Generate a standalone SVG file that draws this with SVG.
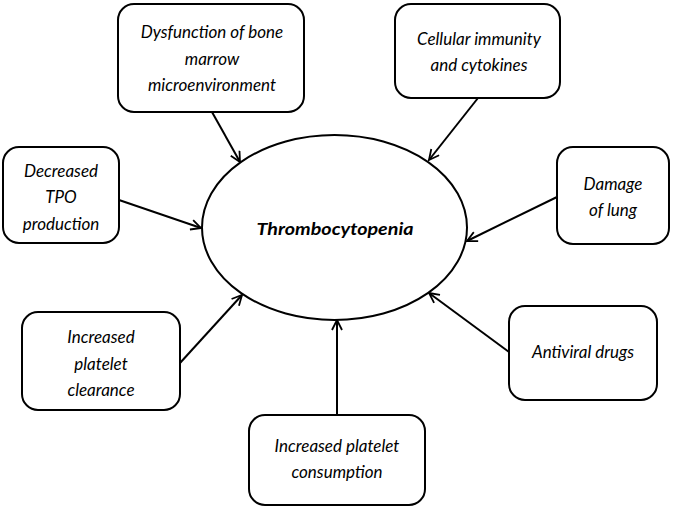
<svg xmlns="http://www.w3.org/2000/svg" width="673" height="509" viewBox="0 0 673 509">
<style>
.box{fill:#fff;stroke:#000;stroke-width:2}
.t{font-family:Lato,"Liberation Sans",sans-serif;font-style:italic;font-size:17px;fill:#000;text-anchor:middle}
.c{stroke:#000;stroke-width:2;fill:none;marker-end:url(#ah)}
</style>
<defs>
<marker id="ah" viewBox="0 0 12 12" refX="11" refY="6" markerWidth="12" markerHeight="12" markerUnits="userSpaceOnUse" orient="auto">
<path d="M1,1 L11,6 L1,11" fill="none" stroke="#000" stroke-width="1.8"/>
</marker>
</defs>
<rect width="673" height="509" fill="#fff"/>
<g id="connectors">
<line class="c" x1="212" y1="112" x2="240" y2="162"/>
<line class="c" x1="478" y1="98" x2="429" y2="160"/>
<line class="c" x1="119" y1="200" x2="201" y2="228"/>
<line class="c" x1="557" y1="197" x2="467" y2="241"/>
<line class="c" x1="180" y1="363" x2="242" y2="295"/>
<line class="c" x1="337" y1="415" x2="337" y2="320"/>
<line class="c" x1="509" y1="352" x2="429" y2="293"/>
</g>
<g id="center">
<ellipse cx="334.5" cy="227.5" rx="132.5" ry="92.5" fill="#fff" stroke="#000" stroke-width="2"/>
<text class="t" x="335" y="235" font-weight="bold" font-size="21" textLength="157" lengthAdjust="spacingAndGlyphs">Thrombocytopenia</text>
</g>
<g id="n1">
<rect class="box" x="118" y="4" width="186" height="108" rx="16"/>
<text class="t" x="212" y="38">Dysfunction of bone</text>
<text class="t" x="212" y="65">marrow</text>
<text class="t" x="212" y="91">microenvironment</text>
</g>
<g id="n2">
<rect class="box" x="395" y="4" width="165" height="94" rx="16"/>
<text class="t" x="479" y="45">Cellular immunity</text>
<text class="t" x="479" y="71">and cytokines</text>
</g>
<g id="n3">
<rect class="box" x="3" y="147" width="116" height="96" rx="16"/>
<text class="t" x="61" y="177">Decreased</text>
<text class="t" x="61" y="203">TPO</text>
<text class="t" x="61" y="230">production</text>
</g>
<g id="n4">
<rect class="box" x="557" y="147" width="112" height="97" rx="16"/>
<text class="t" x="613" y="190">Damage</text>
<text class="t" x="613" y="216">of lung</text>
</g>
<g id="n5">
<rect class="box" x="22" y="312" width="158" height="98" rx="16"/>
<text class="t" x="101" y="343">Increased</text>
<text class="t" x="101" y="370">platelet</text>
<text class="t" x="101" y="396">clearance</text>
</g>
<g id="n6">
<rect class="box" x="249" y="415" width="176" height="90" rx="16"/>
<text class="t" x="337" y="452">Increased platelet</text>
<text class="t" x="337" y="478">consumption</text>
</g>
<g id="n7">
<rect class="box" x="509" y="306" width="148" height="94" rx="16"/>
<text class="t" x="583" y="358">Antiviral drugs</text>
</g>
</svg>
